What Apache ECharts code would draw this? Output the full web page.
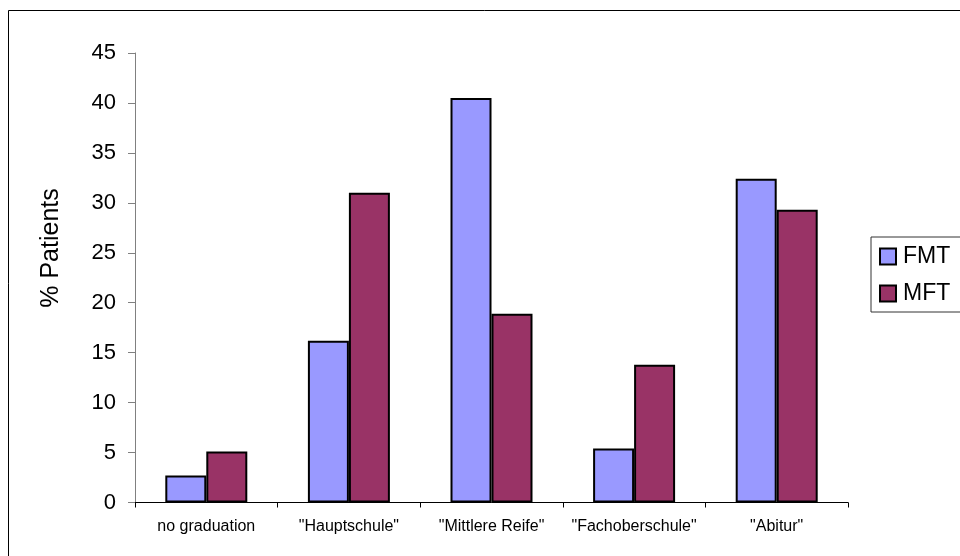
<!DOCTYPE html>
<html>
<head>
<meta charset="utf-8">
<script src="https://cdn.jsdelivr.net/npm/echarts@6/dist/echarts.min.js"></script>
<style>
  html, body { margin: 0; padding: 0; background: #fff; }
  #chart { width: 960px; height: 556px; }
</style>
</head>
<body>
<div id="chart"></div>
<script>
// School-leaving qualification of patients, by treatment group
const categories = ['no graduation', '"Hauptschule"', '"Mittlere Reife"', '"Fachoberschule"', '"Abitur"'];
const seriesNames = ['FMT', 'MFT'];
const fmtValues = [2.7, 16.2, 40.5, 5.4, 32.4];
const mftValues = [5.1, 31.0, 18.9, 13.8, 29.3];
const yTicks = { min: 0, max: 45, step: 5 };
const yTitle = '% Patients';

const font = 'Liberation Sans, Arial, sans-serif';
const chart = echarts.init(document.getElementById('chart'), null, { renderer: 'canvas' });

chart.setOption({
  animation: false,
  backgroundColor: '#ffffff',
  graphic: [
    {
      // frame around the chart area
      type: 'rect',
      shape: { x: 8.5, y: 10.5, width: 1000, height: 1000 },
      style: { fill: null, stroke: '#000', lineWidth: 1 },
      silent: true,
      z: -1
    },
    {
      // value axis title, set a little above the axis middle
      type: 'text',
      x: 51,
      y: 248,
      rotation: Math.PI / 2,
      style: {
        text: yTitle,
        font: '25px ' + font,
        fill: '#000',
        align: 'center',
        verticalAlign: 'middle'
      },
      silent: true
    }
  ],
  grid: { left: 135, right: 112, top: 53, bottom: 53.5, containLabel: false },
  legend: {
    orient: 'vertical',
    left: 871,
    top: 237,
    padding: [8, 40, 7, 8],
    itemGap: 14,
    itemWidth: 16,
    itemHeight: 16,
    borderColor: '#333',
    borderWidth: 1,
    icon: 'rect',
    data: seriesNames,
    textStyle: { fontFamily: font, fontSize: 23, color: '#000', padding: [0, 0, 0, 2] }
  },
  xAxis: {
    type: 'category',
    data: categories,
    axisLine: { lineStyle: { color: '#000', width: 1 } },
    axisTick: { show: true, length: 5, lineStyle: { color: '#000' } },
    axisLabel: { fontFamily: font, fontSize: 16, color: '#000', margin: 16, interval: 0 }
  },
  yAxis: {
    type: 'value',
    min: yTicks.min,
    max: yTicks.max,
    interval: yTicks.step,
    axisLine: { show: true, lineStyle: { color: '#808080', width: 1 } },
    axisTick: { show: true, length: 7, lineStyle: { color: '#808080' } },
    splitLine: { show: false },
    axisLabel: { fontFamily: font, fontSize: 22, color: '#000', margin: 19 }
  },
  series: [
    {
      name: seriesNames[0],
      type: 'bar',
      data: fmtValues,
      barGap: '0%',
      barCategoryGap: '42.5%',
      itemStyle: { color: '#9999FF', borderColor: '#000', borderWidth: 2 }
    },
    {
      name: seriesNames[1],
      type: 'bar',
      data: mftValues,
      barGap: '0%',
      barCategoryGap: '42.5%',
      itemStyle: { color: '#993366', borderColor: '#000', borderWidth: 2 }
    }
  ]
});
</script>
</body>
</html>
